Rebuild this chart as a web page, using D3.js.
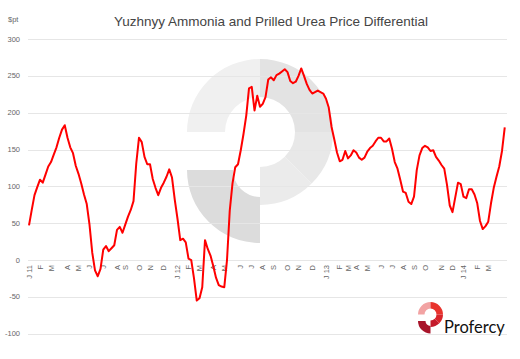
<!DOCTYPE html>
<html><head><meta charset="utf-8">
<script src="https://cdn.jsdelivr.net/npm/d3@7"></script>
<style>body{margin:0;background:#fff}svg{display:block}</style>
</head><body>
<svg id="c" width="520" height="359"></svg>
<script>
const title = "Yuzhnyy Ammonia and Prilled Urea Price Differential";
const unitLabel = "$pt";
const yTicks = [-100, -50, 0, 50, 100, 150, 200, 250, 300];
// weekly price differential, Jan 2011 – May 2014 ($/t)
const values = [
  47, 68, 88, 99, 109, 105, 116, 127, 133, 143,
  153, 166, 177, 183, 166, 153, 145, 128, 117, 104,
  89, 76, 48, 10, -14, -22, -12, 14, 19, 12,
  16, 20, 41, 45, 37, 48, 59, 68, 80, 131,
  166, 160, 140, 130, 130, 110, 98, 88, 98, 105,
  113, 123, 112, 82, 56, 27, 29, 24, 2, 0,
  -25, -55, -52, -37, 27, 15, 6, -8, -24, -34,
  -36, -37, 0, 67, 104, 126, 130, 149, 171, 196,
  233, 235, 203, 223, 208, 212, 221, 245, 248, 244,
  251, 253, 256, 259, 255, 243, 240, 242, 250, 260,
  250, 239, 231, 226, 228, 230, 228, 226, 219, 207,
  181, 164, 146, 134, 136, 148, 138, 142, 149, 146,
  139, 136, 139, 147, 152, 155, 161, 166, 166, 161,
  161, 165, 151, 133, 124, 109, 93, 91, 79, 76,
  86, 122, 142, 152, 155, 153, 148, 149, 140, 135,
  129, 124, 102, 74, 65, 85, 105, 103, 86, 84,
  96, 96, 89, 77, 53, 42, 46, 52, 77, 98,
  113, 127, 148, 180
];
const monthLabels = ["J 11","F","M","A","M","J","J","A","S","O","N","D",
  "J 12","F","M","A","M","J","J","A","S","O","N","D",
  "J 13","F","M","A","M","J","J","A","S","O","N","D",
  "J 14","F","M"];
const monthWeek = [0,4,8,14,18,22,27,32,35,40,44,49,
  54,58,62,67,71,77,81,85,89,94,98,103,
  108,113,116,119,123,128,132,136,140,144,150,154,
  158,163,167];

const svg = d3.select("#c");
const x = d3.scaleLinear().domain([0, values.length - 1]).range([29, 504.75]);
const y = d3.scaleLinear().domain([-100, 300]).range([333.7, 39]);

// watermark logo
function logo(g, cx, cy, R, r, R2, r2, dy, cols) {
  const arc = d3.arc();
  const P = Math.PI;
  const segs = [
    {s: -P/2, e: 0, c: cols[0], cy: cy, R: R, r: r},
    {s: 0, e: P/2, c: cols[1], cy: cy, R: R, r: r},
    {s: P/2, e: 3*P/4, c: cols[2], cy: cy, R: R, r: r},
    {s: 3*P/4, e: P, c: cols[3], cy: cy, R: R, r: r},
    {s: P, e: 3*P/2, c: cols[4], cy: cy + dy, R: R2, r: r2}
  ];
  segs.forEach(d => {
    g.append("path")
      .attr("transform", `translate(${cx},${d.cy})`)
      .attr("d", arc({innerRadius: d.r, outerRadius: d.R, startAngle: d.s, endAngle: d.e}))
      .attr("fill", d.c);
  });
}
logo(svg.append("g"), 260, 132, 73, 35, 73, 27, 38,
  ["#f0f0f0", "#e3e3e3", "#e8e8e8", "#ebebeb", "#dcdcdc"]);

// gridlines
svg.append("g").selectAll("line").data(yTicks).join("line")
  .attr("x1", 28).attr("x2", 507)
  .attr("y1", d => Math.round(y(d)) + 0.5).attr("y2", d => Math.round(y(d)) + 0.5)
  .attr("stroke", "#e6e6e6").attr("stroke-width", 1);

// y labels
svg.append("g").selectAll("text").data(yTicks).join("text")
  .attr("x", 20).attr("y", d => y(d) + 2.5)
  .attr("text-anchor", "end")
  .attr("font-family", "Liberation Sans, Arial, sans-serif")
  .attr("font-size", 7.5).attr("fill", "#666")
  .text(d => d);

svg.append("text").attr("x", 8).attr("y", 22)
  .attr("font-family", "Liberation Sans, Arial, sans-serif")
  .attr("font-size", 7.5).attr("fill", "#666").text(unitLabel);

// x labels
svg.append("g").selectAll("text").data(monthWeek).join("text")
  .attr("transform", d => `translate(${x(d) + 2.5},265) rotate(-90)`)
  .attr("text-anchor", "end")
  .attr("font-family", "Liberation Sans, Arial, sans-serif")
  .attr("font-size", 7.5).attr("fill", "#666")
  .text((d, i) => monthLabels[i]);

// title
svg.append("text").attr("x", 271).attr("y", 26)
  .attr("text-anchor", "middle")
  .attr("font-family", "Liberation Sans, Arial, sans-serif")
  .attr("font-size", 13.5).attr("fill", "#444").text(title);

// line
svg.append("path").datum(values)
  .attr("fill", "none").attr("stroke", "#ff0000").attr("stroke-width", 2)
  .attr("stroke-linejoin", "round")
  .attr("d", d3.line().x((d, i) => x(i)).y(d => y(d)));

// Profercy logo
logo(svg.append("g"), 430.5, 314.5, 12.5, 6, 12.5, 5, 6.5,
  ["#f2a3a3", "#e8332d", "#d9242b", "#c41a2b", "#a8142a"]);
svg.append("text").attr("x", 444).attr("y", 333)
  .attr("font-family", "Lato, Roboto, sans-serif")
  .attr("font-size", 16.5).attr("fill", "#111").text("Profercy");
</script>
</body></html>
